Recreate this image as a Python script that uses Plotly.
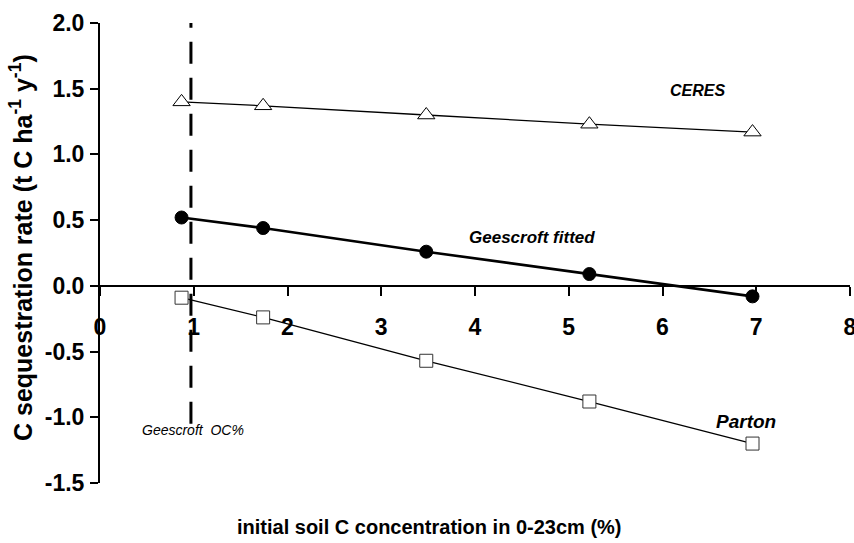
import plotly.graph_objects as go

# Data
soil_c = [0.87, 1.74, 3.48, 5.22, 6.96]
ceres = [1.40, 1.37, 1.30, 1.23, 1.17]
geescroft_fitted = [0.52, 0.44, 0.26, 0.09, -0.08]
parton = [-0.09, -0.24, -0.57, -0.88, -1.20]
geescroft_oc = 0.97
x_ticks = [0, 1, 2, 3, 4, 5, 6, 7, 8]
y_ticks = [-1.5, -1.0, -0.5, 0.0, 0.5, 1.0, 1.5, 2.0]

FONT = "Liberation Sans, Arial, sans-serif"

fig = go.Figure()

# Geescroft OC% reference line
fig.add_trace(go.Scatter(
    x=[geescroft_oc, geescroft_oc], y=[-1.05, 2.0], mode="lines",
    line=dict(color="black", width=3, dash="22px,14px"), hoverinfo="skip"))

fig.add_trace(go.Scatter(
    x=soil_c, y=ceres, mode="lines+markers", name="CERES",
    line=dict(color="black", width=1.3),
    marker=dict(symbol="triangle-up", size=15, color="white",
                line=dict(color="black", width=1))))

fig.add_trace(go.Scatter(
    x=soil_c, y=geescroft_fitted, mode="lines+markers", name="Geescroft fitted",
    line=dict(color="black", width=2.6),
    marker=dict(symbol="circle", size=13, color="black",
                line=dict(color="black", width=1))))

fig.add_trace(go.Scatter(
    x=soil_c, y=parton, mode="lines+markers", name="Parton",
    line=dict(color="black", width=1.3),
    marker=dict(symbol="square", size=13, color="white",
                line=dict(color="#333", width=1))))

fig.update_layout(
    width=854, height=543,
    margin=dict(l=100, r=4, t=23, b=60),
    paper_bgcolor="white", plot_bgcolor="white",
    showlegend=False,
    font=dict(family=FONT, color="black"),
    xaxis=dict(
        range=[0, 8], tickvals=x_ticks, ticktext=[str(v) for v in x_ticks],
        anchor="free", position=1.5 / 3.5, automargin=False,
        showline=True, linecolor="black", linewidth=2,
        ticks="outside", ticklen=9, tickwidth=2, tickcolor="black",
        showgrid=False, zeroline=False,
        tickfont=dict(size=23, family=FONT, color="black", weight="bold"),
        ticklabelstandoff=12, ticklabeloverflow="allow",
    ),
    yaxis=dict(
        range=[-1.5, 2.0], tickvals=y_ticks, automargin=False,
        ticktext=[f"{v:.1f}" for v in y_ticks],
        showline=True, linecolor="black", linewidth=2,
        ticks="outside", ticklen=8, tickwidth=2, tickcolor="black",
        showgrid=False, zeroline=False,
        tickfont=dict(size=23, family=FONT, color="black", weight="bold"),
        ticklabelstandoff=1,
    ),
)

annotations = [
    dict(x=6.37, y=1.49, text="<b><i>CERES</i></b>", size=16),
    dict(x=4.61, y=0.365, text="<b><i>Geescroft fitted</i></b>", size=17),
    dict(x=6.89, y=-1.03, text="<b><i>Parton</i></b>", size=19),
    dict(x=0.99, y=-1.10, text="<i>Geescroft  OC%</i>", size=14),
]
for a in annotations:
    fig.add_annotation(x=a["x"], y=a["y"], xref="x", yref="y", text=a["text"],
                       xanchor="center", yanchor="middle",
                       showarrow=False, font=dict(size=a["size"], family=FONT, color="black"))

fig.add_annotation(
    x=(429 - 100) / 750, y=(483 - 527) / 460, xref="paper", yref="paper",
    xanchor="center", yanchor="middle",
    text="<b>initial soil C concentration in 0-23cm (%)</b>",
    showarrow=False, font=dict(size=20, family=FONT, color="black"))

fig.add_annotation(
    text="<b>C sequestration rate (t C ha<sup>-1</sup> y<sup>-1</sup>)</b>",
    x=(21 - 100) / 750, y=(483 - 248) / 460, xref="paper", yref="paper", textangle=-90,
    xanchor="center", yanchor="middle",
    showarrow=False, font=dict(size=25, family=FONT, color="black"))

fig.write_html("out.html")
